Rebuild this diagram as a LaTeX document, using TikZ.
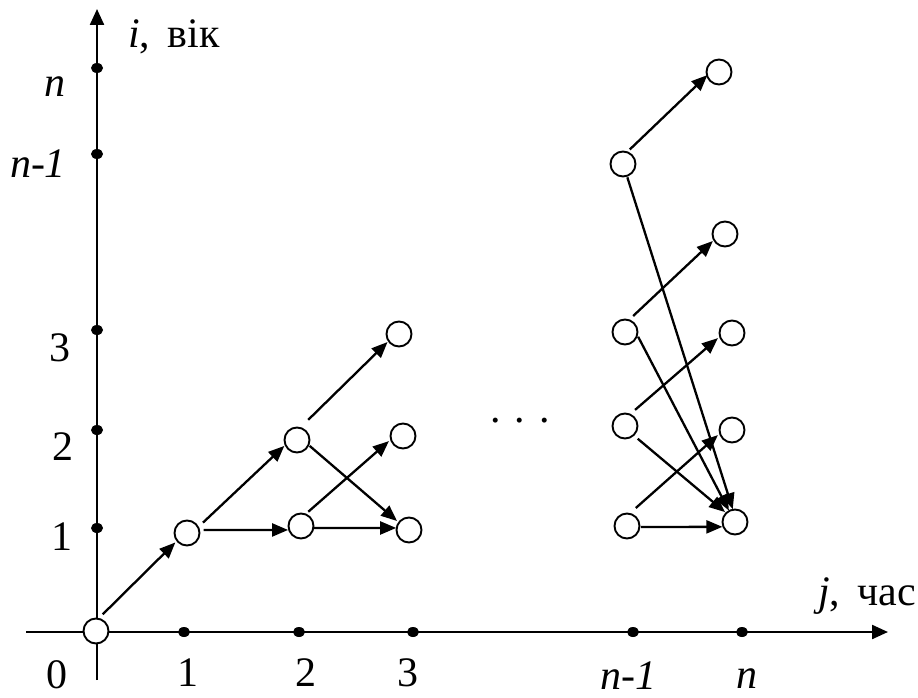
\documentclass[tikz,border=0pt]{standalone}
\usepackage{fontspec}
\setmainfont{Liberation Serif}
\usetikzlibrary{arrows.meta}
\begin{document}
\begin{tikzpicture}[x=1pt,y=-1pt,
  st/.style={circle,draw=black,line width=1.9pt,fill=white,minimum size=25pt,inner sep=0pt},
  arr/.style={line width=2.3pt,-{Triangle[length=16pt,width=13pt]}},
  axis/.style={line width=2.3pt,-{Triangle[length=16pt,width=14pt]}},
  lbl/.style={anchor=base,inner sep=0pt,font=\fontsize{42}{50}\selectfont},
  tick/.style={fill=black}]
\useasboundingbox (0,0) rectangle (918,698);
% axes
\draw[axis] (26,632) -- (888,632);
\draw[axis] (97,680) -- (97,9);
% ticks
\foreach \yy in {68,154,330,430,528} \fill[tick] (97,\yy) ellipse [x radius=6pt, y radius=5pt];
\foreach \xx in {184,299,413,633,742} \fill[tick] (\xx,632) ellipse [x radius=6pt, y radius=5pt];
% states
\node[st] (O) at (96,631) {};
\node[st] (a11) at (187,533) {};
\node[st] (a22) at (297,440) {};
\node[st] (a21) at (301,526) {};
\node[st] (a33) at (399,334) {};
\node[st] (a32) at (403,436) {};
\node[st] (a31) at (409,530) {};
\node[st] (bN) at (623,164) {};
\node[st] (cN) at (719,72) {};
\node[st] (b3) at (625,332) {};
\node[st] (cM) at (725,234) {};
\node[st] (c3) at (732,333) {};
\node[st] (b2) at (625,426) {};
\node[st] (c2) at (732,430) {};
\node[st] (b1) at (627,526) {};
\node[st] (c1) at (735,522) {};
% transitions, left part
\draw[arr] ([shift={(68:18pt)}]O.center) -- ([shift={(219:15pt)}]a11.center);
\draw[arr] ([shift={(33:19pt)}]a11.center) -- ([shift={(205:14pt)}]a22.center);
\draw[arr] ([shift={(10:17pt)}]a11.center) -- ([shift={(197:13.5pt)}]a21.center);
\draw[arr] ([shift={(61:23pt)}]a22.center) -- ([shift={(215:14pt)}]a33.center);
\draw[arr] ([shift={(-25:14pt)}]a22.center) -- ([shift={(143:15pt)}]a31.center);
\draw[arr] ([shift={(63:16pt)}]a21.center) -- ([shift={(200:15pt)}]a32.center);
\draw[arr] ([shift={(-9:13pt)}]a21.center) -- ([shift={(171:13pt)}]a31.center);
% transitions, right part
\draw[arr] ([shift={(65:16pt)}]bN.center) -- ([shift={(195:12pt)}]cN.center);
\draw[arr] ([shift={(-72:14pt)}]bN.center) -- ([shift={(100:13pt)}]c1.center);
\draw[arr] ([shift={(-20:14pt)}]b3.center) -- ([shift={(118:13pt)}]c1.center);
\draw[arr] ([shift={(63:18pt)}]b3.center) -- ([shift={(210:14pt)}]cM.center);
\draw[arr] ([shift={(58:19pt)}]b2.center) -- ([shift={(200:15pt)}]c3.center);
\draw[arr] ([shift={(-45:18pt)}]b2.center) -- ([shift={(135:14pt)}]c1.center);
\draw[arr] ([shift={(64:20pt)}]b1.center) -- ([shift={(200:15pt)}]c2.center);
\draw[arr] ([shift={(-4:14pt)}]b1.center) -- ([shift={(201:13.5pt)}]c1.center);
% labels on the age axis
\node[lbl] (ln) at (55,97) {\textit{n}};
\node[lbl] (lnm) at (38,177) {\textit{n-1}};
\node[lbl] (l3) at (60,361) {3};
\node[lbl] (l2) at (63,460) {2};
\node[lbl] (l1) at (62,550) {1};
\node[lbl] (l0) at (57,688) {0};
% labels on the time axis
\node[lbl] (t1) at (188,686) {1};
\node[lbl] (t2) at (306,686) {2};
\node[lbl] (t3) at (408,686) {3};
\node[lbl] (tnm) at (628,689) {\textit{n-1}};
\node[lbl] (tn) at (747,688) {\textit{n}};
% axis names
\node[lbl,anchor=base west] (yname) at (128,48) {\textit{i},\, вік};
\node[lbl,anchor=base west] (xname) at (818,605) {\textit{j},\, час};
\node[lbl] (dots) at (520,422) {. . .};
\end{tikzpicture}
\end{document}
